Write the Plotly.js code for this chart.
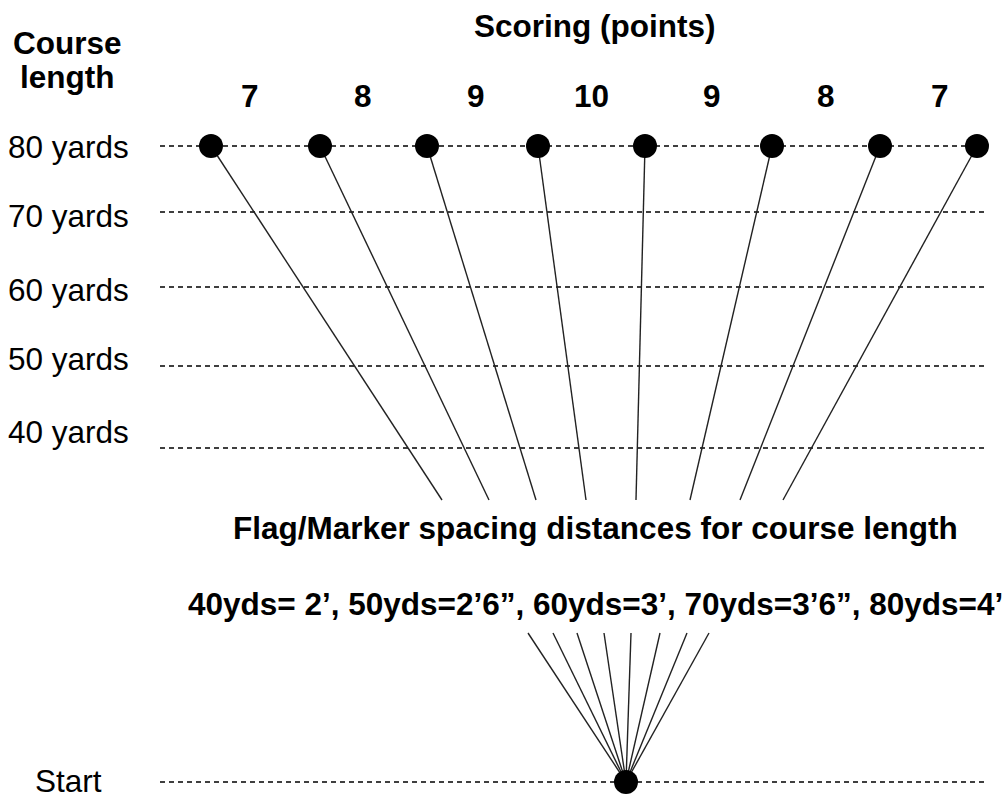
<!DOCTYPE html>
<html>
<head>
<meta charset="utf-8">
<script src="https://cdn.plot.ly/plotly-3.0.1.min.js"></script>
<style>html,body{margin:0;padding:0;background:#fff;}#chart{width:1006px;height:800px;}</style>
</head>
<body>
<div id="chart"></div>
<script>
// ---- data (diagram units = page pixels, y grows downward) ----
var scoring = [7, 8, 9, 10, 9, 8, 7];
var scoringX = [250, 363, 476, 591, 712, 826, 940];
var courseLengths = ['80 yards', '70 yards', '60 yards', '50 yards', '40 yards'];
var courseLineY = [146, 212, 287, 366, 448];
var courseLabelY = [147, 216, 290, 359, 432];
var startLineY = 782;
var flagX = [211, 320, 427, 538, 645, 772, 880, 977];
var flagLineEndX = [442, 489, 536, 586, 636, 690, 740, 783];
var flagLineEndY = 500;
var startX = 626;
var fanTopX = [528, 553, 577, 604, 631, 660, 687, 709];
var fanTopY = 633;
var lineStartX = 160, lineEndX = 986;
var spacingTitle = 'Flag/Marker spacing distances for course length';
var spacingText = '40yds= 2\u2019, 50yds=2\u20196\u201d, 60yds=3\u2019, 70yds=3\u20196\u201d, 80yds=4\u2019';

// ---- build traces ----
var dashX = [], dashY = [];
courseLineY.concat([startLineY]).forEach(function (y) {
  dashX.push(lineStartX, lineEndX, null);
  dashY.push(y, y, null);
});
var connX = [], connY = [];
flagX.forEach(function (x, i) {
  connX.push(x, flagLineEndX[i], null);
  connY.push(courseLineY[0], flagLineEndY, null);
});
var fanX = [], fanY = [];
fanTopX.forEach(function (x) {
  fanX.push(startX, x, null);
  fanY.push(startLineY, fanTopY, null);
});

var traces = [
  {x: dashX, y: dashY, mode: 'lines', line: {color: '#000', width: 1.5, dash: '5px,4px'}, hoverinfo: 'skip'},
  {x: connX, y: connY, mode: 'lines', line: {color: '#222', width: 1.4}, hoverinfo: 'skip'},
  {x: fanX, y: fanY, mode: 'lines', line: {color: '#222', width: 1.4}, hoverinfo: 'skip'},
  {x: flagX, y: flagX.map(function () { return courseLineY[0]; }), mode: 'markers',
   marker: {color: '#000', size: 24}, hoverinfo: 'skip'},
  {x: [startX], y: [startLineY], mode: 'markers', marker: {color: '#000', size: 24}, hoverinfo: 'skip'}
];

var F = 'Liberation Sans, Arial, sans-serif';
var ann = [];
function addText(t, x, y, bold) {
  ann.push({text: bold ? '<b>' + t + '</b>' : t, x: x, y: y, xref: 'x', yref: 'y',
    showarrow: false, xanchor: 'center', yanchor: 'middle',
    font: {family: F, size: 31.5, color: '#000'}});
}
addText('Course', 67, 43, true);
addText('length', 67, 77, true);
addText('Scoring (points)', 594, 26, true);
scoring.forEach(function (s, i) { addText(String(s), scoringX[i], 96, true); });
courseLengths.forEach(function (c, i) { addText(c, 68, courseLabelY[i], false); });
addText('Start', 68, 781, false);
addText(spacingTitle, 595, 528, true);
addText(spacingText, 595, 604, true);

var layout = {
  width: 1006, height: 800,
  margin: {l: 0, r: 0, t: 0, b: 0},
  paper_bgcolor: '#fff', plot_bgcolor: '#fff',
  showlegend: false,
  xaxis: {range: [0, 1006], visible: false, fixedrange: true},
  yaxis: {range: [800, 0], visible: false, fixedrange: true},
  annotations: ann
};
Plotly.newPlot('chart', traces, layout, {displayModeBar: false, staticPlot: true});
</script>
</body>
</html>
